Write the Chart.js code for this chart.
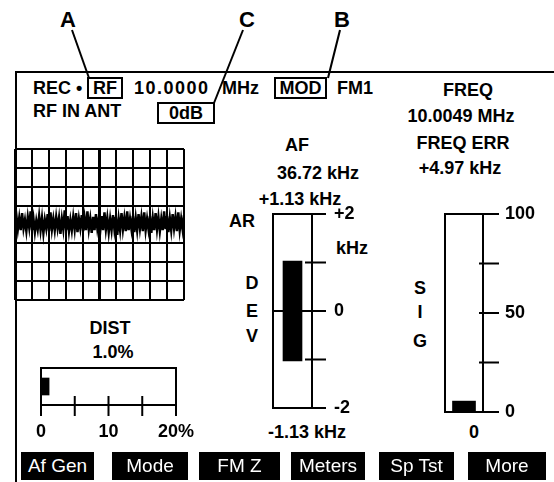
<!DOCTYPE html>
<html>
<head>
<meta charset="utf-8">
<script src="https://cdn.jsdelivr.net/npm/chart.js@4.4.1/dist/chart.umd.min.js"></script>
<style>
  html, body { margin: 0; padding: 0; background: #fff; }
  #screen {
    position: relative; width: 554px; height: 482px; overflow: hidden;
    font-family: "Liberation Sans", Arial, sans-serif; font-weight: bold; font-size: 18px; color: #000;
  }
  #screen canvas { position: absolute; left: 0; top: 0; }
  .t { position: absolute; white-space: nowrap; line-height: 1; transform: translate(-50%, -50%); }
  .l { position: absolute; white-space: nowrap; line-height: 1; transform: translateY(-50%); }
  .box {
    position: absolute; border: 2px solid #000; box-sizing: border-box;
    display: flex; align-items: center; justify-content: center; line-height: 1;
  }
  .key {
    position: absolute; top: 452px; height: 28px; background: #000; color: #fff;
    font-weight: normal; font-size: 19px; display: flex; align-items: center; justify-content: center;
  }
  .frame { position: absolute; left: 15px; top: 71px; right: 0; bottom: 0; border-left: 2px solid #000; border-top: 2px solid #000; }
  .letter { font-size: 22px; }
</style>
</head>
<body>
<div id="screen">
  <div class="frame"></div>
  <svg width="554" height="482" style="position:absolute;left:0;top:0">
    <g stroke="#000" stroke-width="2">
      <line x1="72" y1="30" x2="89" y2="78"/>
      <line x1="243" y1="30" x2="214" y2="103"/>
      <line x1="340" y1="30" x2="328" y2="78"/>
    </g>
  </svg>

  <div class="t letter" style="left:68px;top:20px">A</div>
  <div class="t letter" style="left:247px;top:20px">C</div>
  <div class="t letter" style="left:342px;top:20px">B</div>

  <div class="l" style="left:33px;top:88px">REC •</div>
  <div class="box" style="left:87px;top:77px;width:36px;height:22px">RF</div>
  <div class="l" style="left:134px;top:88px;letter-spacing:1.5px">10.0000</div>
  <div class="l" style="left:222px;top:88px">MHz</div>
  <div class="box" style="left:274px;top:77px;width:53px;height:22px">MOD</div>
  <div class="l" style="left:337px;top:88px">FM1</div>
  <div class="l" style="left:33px;top:111px">RF IN ANT</div>
  <div class="box" style="left:157px;top:102px;width:58px;height:22px">0dB</div>

  <div class="t" style="left:468px;top:90px">FREQ</div>
  <div class="t" style="left:461px;top:116px">10.0049 MHz</div>
  <div class="t" style="left:463px;top:143px">FREQ ERR</div>
  <div class="t" style="left:460px;top:168px">+4.97 kHz</div>

  <div class="t" style="left:297px;top:145px">AF</div>
  <div class="t" style="left:318px;top:173px">36.72 kHz</div>
  <div class="t" style="left:300px;top:199px">+1.13 kHz</div>
  <div class="t" style="left:242px;top:221px">AR</div>
  <div class="t" style="left:352px;top:248px">kHz</div>
  <div class="t" style="left:252px;top:283px">D</div>
  <div class="t" style="left:252px;top:311px">E</div>
  <div class="t" style="left:252px;top:336px">V</div>
  <div class="t" style="left:307px;top:432px">-1.13 kHz</div>

  <div class="t" style="left:420px;top:288px">S</div>
  <div class="t" style="left:420px;top:312px">I</div>
  <div class="t" style="left:420px;top:341px">G</div>
  <div class="t" style="left:474px;top:432px">0</div>

  <div class="t" style="left:110px;top:328px">DIST</div>
  <div class="t" style="left:113px;top:352px">1.0%</div>

  <canvas id="scopeChart" width="554" height="482"></canvas>
  <canvas id="distChart" width="554" height="482"></canvas>
  <canvas id="devChart" width="554" height="482"></canvas>
  <canvas id="sigChart" width="554" height="482"></canvas>
  <div id="keys"></div>
</div>

<script>
// scope trace, in graticule divisions (centre line = 0)
const traceValues = [
  0.10, 0.45, -0.25, 0.35, -0.30, 0.60, -0.20, 0.25, -0.35, 0.40,
  -0.15, 0.70, -0.30, 0.30, -0.40, 0.20, -0.25, 0.45, -0.30, 0.35,
  -0.45, 0.25, -0.20, 0.55, -0.35, 0.65, -0.25, 0.30, -0.30, 0.40,
  -0.20, 0.35, -0.50, 0.30, -0.25, 0.75, -0.30, 0.45, -0.35, 0.25,
  -0.30, 0.40, -0.25, 0.60, -0.40, 0.30, -0.20, 0.50, -0.35, 0.35,
  -0.30, 0.70, -0.25, 0.30, -0.45, 0.40, -0.30, 0.55, -0.20, 0.30,
  -0.35, 0.45, -0.30, 0.65, -0.25, 0.35, -0.40, 0.30, -0.30, 0.50,
  -0.25, 0.40, -0.55, 0.30, -0.30, 0.60, -0.25, 0.35, -0.35, 0.70,
  -0.30, 0.30, -0.25, 0.45, -0.40, 0.35, -0.30, 0.55, -0.20, 0.40,
  -0.35, 0.65, -0.30, 0.30, -0.25, 0.45, -0.45, 0.35, -0.30, 0.60,
  -0.25, 0.40, -0.35, 0.30, -0.30, 0.70, -0.25, 0.45, -0.40, 0.35,
  -0.30, 0.55, -0.20, 0.40, -0.35, 0.65, -0.30, 0.30, -0.25, 0.50,
];

// DIST meter (%)
const distValue = 1.2;
const distTickValues = [0, 10, 20];
const distTickLabels = ['0', '10', '20%'];

// AF deviation meter (kHz), bar spans low..high
const devRange = [-1.03, 1.03];
const devTickValues = [2, 0, -2];
const devTickLabels = ['+2', '0', '-2'];

// signal meter
const sigValue = 5.5;
const sigTickValues = [100, 50, 0];
const sigTickLabels = ['100', '50', '0'];

const softKeys = ['Af Gen', 'Mode', 'FM Z', 'Meters', 'Sp Tst', 'More'];
const softKeyEdges = [[21, 94], [112, 188], [199, 280], [291, 365], [379, 454], [468, 546]];

const FONT = { family: '"Liberation Sans", Arial, sans-serif', size: 18, weight: 'bold' };

function pickLabel(values, labels) {
  return (v) => {
    const i = values.indexOf(v);
    return i >= 0 ? labels[i] : '';
  };
}

// box outline + tick marks crossing the meter's scale line
const gaugeFrame = {
  id: 'gaugeFrame',
  afterDatasetsDraw(chart, args, opts) {
    if (!opts.scaleId) return;
    const { ctx, chartArea: a } = chart;
    const scale = chart.scales[opts.scaleId];
    ctx.save();
    ctx.strokeStyle = '#000';
    ctx.lineWidth = 2;
    ctx.lineCap = 'square';
    ctx.beginPath();
    if (scale.isHorizontal()) {
      ctx.moveTo(a.left, a.bottom + opts.tickOut);
      ctx.lineTo(a.left, a.top);
      ctx.lineTo(a.right, a.top);
      ctx.lineTo(a.right, a.bottom + opts.tickOut);
      scale.ticks.forEach((t) => {
        const x = scale.getPixelForValue(t.value);
        ctx.moveTo(x, a.bottom - opts.tickIn);
        ctx.lineTo(x, a.bottom + opts.tickOut);
      });
    } else {
      ctx.moveTo(a.left, a.top);
      ctx.lineTo(a.left, a.bottom);
      scale.ticks.forEach((t) => {
        const y = scale.getPixelForValue(t.value);
        const x0 = opts.full.includes(t.value) ? a.left : a.right - opts.tickIn;
        ctx.moveTo(x0, y);
        ctx.lineTo(a.right + opts.tickOut, y);
      });
    }
    ctx.stroke();
    ctx.restore();
  },
};

const base = {
  responsive: false,
  animation: false,
  devicePixelRatio: 1,
  plugins: { legend: { display: false }, tooltip: { enabled: false } },
};

// oscilloscope graticule with trace
// eslint-disable-next-line no-undef
new Chart(document.getElementById('scopeChart'), {
  type: 'line',
  data: {
    datasets: [{
      data: traceValues.map((v, i) => ({ x: (i * 100) / (traceValues.length - 1), y: v })),
      borderColor: '#000',
      borderWidth: 2.5,
      pointRadius: 0,
      tension: 0,
    }],
  },
  options: {
    ...base,
    parsing: false,
    layout: { padding: { left: 15, top: 149, right: 370, bottom: 182 } },
    scales: {
      x: {
        type: 'linear', min: 0, max: 100,
        ticks: { display: false, stepSize: 10 },
        grid: { color: '#000', lineWidth: (c) => (c.tick && c.tick.value === 50 ? 3 : 2), drawTicks: false },
        border: { display: false },
        afterFit: (s) => { s.height = 0; },
      },
      y: {
        type: 'linear', min: -4, max: 4,
        ticks: { display: false, stepSize: 1 },
        grid: { color: '#000', lineWidth: (c) => (c.tick && c.tick.value === 0 ? 3 : 2), drawTicks: false },
        border: { display: false },
        afterFit: (s) => { s.width = 0; },
      },
    },
  },
});

// DIST horizontal meter
// eslint-disable-next-line no-undef
new Chart(document.getElementById('distChart'), {
  type: 'bar',
  data: {
    labels: ['DIST'],
    datasets: [{ data: [distValue], backgroundColor: '#000', borderWidth: 0, barThickness: 17 }],
  },
  options: {
    ...base,
    indexAxis: 'y',
    layout: { padding: { left: 41, top: 368, right: 378, bottom: 37 } },
    plugins: { ...base.plugins, gaugeFrame: { scaleId: 'x', tickIn: 8, tickOut: 10 } },
    scales: {
      x: {
        min: 0, max: 20,
        ticks: {
          stepSize: 5, autoSkip: false, maxRotation: 0, padding: 16, color: '#000', font: FONT,
          callback: pickLabel(distTickValues, distTickLabels),
        },
        grid: { display: false, drawTicks: false },
        border: { display: true, color: '#000', width: 2 },
        afterFit: (s) => { s.height = 40; },
      },
      y: { display: false },
    },
  },
  plugins: [gaugeFrame],
});

// DEV vertical meter
// eslint-disable-next-line no-undef
new Chart(document.getElementById('devChart'), {
  type: 'bar',
  data: {
    labels: ['DEV'],
    datasets: [{ data: [devRange], backgroundColor: '#000', borderWidth: 0, borderSkipped: false, barThickness: 19 }],
  },
  options: {
    ...base,
    layout: { padding: { left: 273, top: 214, right: 182, bottom: 74 } },
    plugins: { ...base.plugins, gaugeFrame: { scaleId: 'y', tickIn: 6, tickOut: 13, full: [2, 0, -2] } },
    scales: {
      x: { display: false },
      y: {
        position: 'right', min: -2, max: 2,
        ticks: {
          stepSize: 1, autoSkip: false, padding: 22, color: '#000', font: FONT,
          callback: pickLabel(devTickValues, devTickLabels),
        },
        grid: { display: false, drawTicks: false },
        border: { display: true, color: '#000', width: 2 },
        afterFit: (s) => { s.width = 60; },
      },
    },
  },
  plugins: [gaugeFrame],
});

// SIG vertical meter
// eslint-disable-next-line no-undef
new Chart(document.getElementById('sigChart'), {
  type: 'bar',
  data: {
    labels: ['SIG'],
    datasets: [{ data: [sigValue], backgroundColor: '#000', borderWidth: 0, barThickness: 23 }],
  },
  options: {
    ...base,
    layout: { padding: { left: 445, top: 214, right: 11, bottom: 70 } },
    plugins: { ...base.plugins, gaugeFrame: { scaleId: 'y', tickIn: 3, tickOut: 15, full: [100, 0] } },
    scales: {
      x: { display: false },
      y: {
        position: 'right', min: 0, max: 100,
        ticks: {
          stepSize: 25, autoSkip: false, padding: 22, color: '#000', font: FONT,
          callback: pickLabel(sigTickValues, sigTickLabels),
        },
        grid: { display: false, drawTicks: false },
        border: { display: true, color: '#000', width: 2 },
        afterFit: (s) => { s.width = 60; },
      },
    },
  },
  plugins: [gaugeFrame],
});

// soft keys along the bottom
const keys = document.getElementById('keys');
softKeys.forEach((name, i) => {
  const [x0, x1] = softKeyEdges[i];
  const el = document.createElement('div');
  el.className = 'key';
  el.style.left = `${x0}px`;
  el.style.width = `${x1 - x0}px`;
  el.textContent = name;
  keys.appendChild(el);
});
</script>
</body>
</html>
